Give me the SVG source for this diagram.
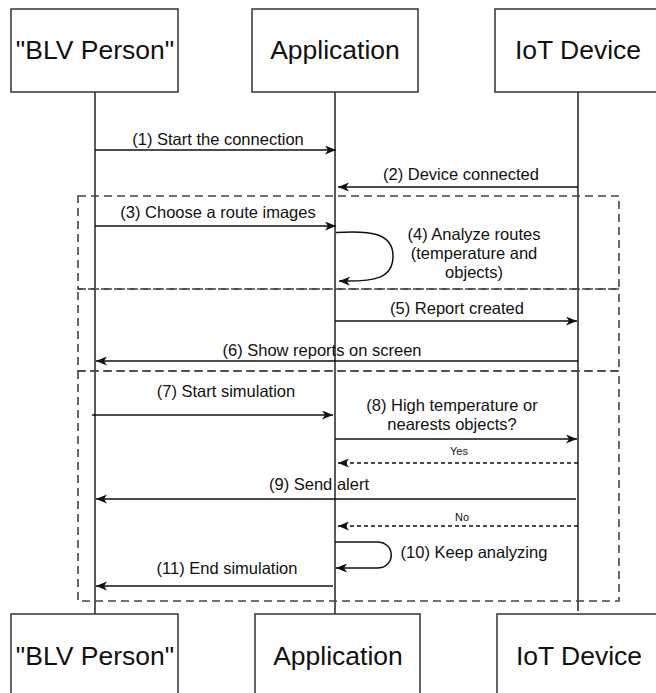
<svg xmlns="http://www.w3.org/2000/svg" width="656" height="693" viewBox="0 0 656 693">
  <defs>
    <style>
      .box { fill: #ffffff; stroke: #333333; stroke-width: 1.5; }
      .actor { font-family: "Liberation Sans", Arial, sans-serif; font-size: 26.5px; fill: #111111; text-anchor: middle; }
      .life { stroke: #222222; stroke-width: 1.5; fill: none; }
      .frame { stroke: #444444; stroke-width: 1.6; fill: none; stroke-dasharray: 8 5; }
      .msg { stroke: #111111; stroke-width: 1.5; fill: none; marker-end: url(#arrow); }
      .ret { stroke: #111111; stroke-width: 1.5; fill: none; stroke-dasharray: 4 3; marker-end: url(#arrow); }
      .lbl { font-family: "Liberation Sans", Arial, sans-serif; font-size: 16.5px; fill: #111111; text-anchor: middle; }
      .small { font-family: "Liberation Sans", Arial, sans-serif; font-size: 11px; fill: #111111; text-anchor: middle; }
    </style>
    <marker id="arrow" markerUnits="userSpaceOnUse" markerWidth="12" markerHeight="10" refX="11" refY="4.5" orient="auto">
      <path d="M0,0 L11,4.5 L0,9 L3,4.5 z" fill="#111111"/>
    </marker>
  </defs>

  <rect width="656" height="693" fill="#ffffff"/>

  <!-- lifelines -->
  <g id="lifelines">
    <line class="life" x1="95" y1="92" x2="95" y2="614"/>
    <line class="life" x1="335" y1="92" x2="335" y2="614"/>
    <line class="life" x1="578" y1="92" x2="578" y2="611"/>
  </g>

  <!-- combined fragments -->
  <g id="frames">
    <rect class="frame" x="78" y="196" width="541" height="93"/>
    <rect class="frame" x="78" y="289" width="541" height="82"/>
    <rect class="frame" x="78" y="371" width="541" height="230"/>
  </g>

  <!-- participants (top) -->
  <g id="blv-top">
    <rect class="box" x="11" y="9" width="167" height="83"/>
    <text class="actor" x="95" y="59">"BLV Person"</text>
  </g>
  <g id="app-top">
    <rect class="box" x="252" y="9" width="166" height="83"/>
    <text class="actor" x="335" y="59">Application</text>
  </g>
  <g id="iot-top">
    <rect class="box" x="495" y="9" width="167" height="83"/>
    <text class="actor" x="578" y="59">IoT Device</text>
  </g>

  <!-- participants (bottom) -->
  <g id="blv-bottom">
    <rect class="box" x="11" y="614" width="167" height="83"/>
    <text class="actor" x="95" y="665">"BLV Person"</text>
  </g>
  <g id="app-bottom">
    <rect class="box" x="255" y="614" width="165" height="83"/>
    <text class="actor" x="338" y="665">Application</text>
  </g>
  <g id="iot-bottom">
    <rect class="box" x="497" y="614" width="166" height="83"/>
    <text class="actor" x="579" y="665">IoT Device</text>
  </g>

  <!-- messages -->
  <g id="connectors">
    <line class="msg" x1="95" y1="150" x2="336" y2="150"/>
    <line class="msg" x1="578" y1="187" x2="338" y2="187"/>
    <line class="msg" x1="95" y1="226" x2="336" y2="226"/>
    <path class="msg" d="M336,232.5 C372,230 393,234 393,256 C393,278 376,282 339,281"/>
    <line class="msg" x1="335" y1="321" x2="577" y2="321"/>
    <line class="msg" x1="578" y1="361" x2="96" y2="361"/>
    <line class="msg" x1="92" y1="415" x2="333" y2="415"/>
    <line class="msg" x1="335" y1="439" x2="577" y2="439"/>
    <line class="ret" x1="578" y1="463" x2="338" y2="463"/>
    <line class="msg" x1="576" y1="499" x2="96" y2="499"/>
    <line class="ret" x1="578" y1="526" x2="338" y2="526"/>
    <path class="msg" d="M335,542 L377,542 C396,542 396,568 377,568 L336,568"/>
    <line class="msg" x1="333" y1="586" x2="96" y2="586"/>
  </g>

  <!-- message labels -->
  <g id="labels">
    <text class="lbl" x="218" y="145">(1) Start the connection</text>
    <text class="lbl" x="461" y="180">(2) Device connected</text>
    <text class="lbl" x="218" y="218">(3) Choose a route images</text>
    <text class="lbl" x="474" y="240">(4) Analyze routes</text>
    <text class="lbl" x="474" y="259">(temperature and</text>
    <text class="lbl" x="474" y="278">objects)</text>
    <text class="lbl" x="457" y="314">(5) Report created</text>
    <text class="lbl" x="322" y="356">(6) Show reports on screen</text>
    <text class="lbl" x="226" y="397">(7) Start simulation</text>
    <text class="lbl" x="452" y="411">(8) High temperature or</text>
    <text class="lbl" x="452" y="430">nearests objects?</text>
    <text class="small" x="459" y="455">Yes</text>
    <text class="lbl" x="319" y="490">(9) Send alert</text>
    <text class="small" x="462" y="521">No</text>
    <text class="lbl" x="474" y="558">(10) Keep analyzing</text>
    <text class="lbl" x="227" y="574">(11) End simulation</text>
  </g>
</svg>
